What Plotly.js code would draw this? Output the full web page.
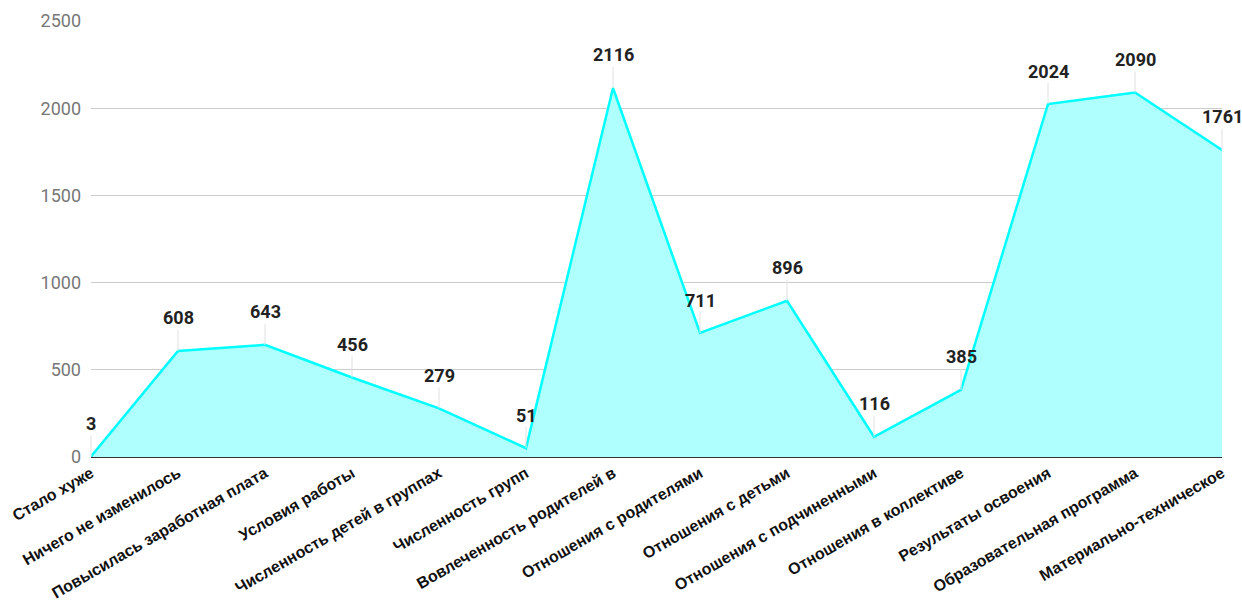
<!DOCTYPE html>
<html>
<head>
<meta charset="utf-8">
<script src="https://cdn.plot.ly/plotly-3.0.1.min.js"></script>
<style>html,body{margin:0;padding:0;background:#fff;}#chart{width:1242px;height:614px;}</style>
</head>
<body>
<div id="chart"></div>
<script>
const categories = [
  "Стало хуже",
  "Ничего не изменилось",
  "Повысилась заработная плата",
  "Условия работы",
  "Численность детей в группах",
  "Численность групп",
  "Вовлеченность родителей в",
  "Отношения с родителями",
  "Отношения с детьми",
  "Отношения с подчиненными",
  "Отношения в коллективе",
  "Результаты освоения",
  "Образовательная программа",
  "Материально-техническое"
];
const values = [3, 608, 643, 456, 279, 51, 2116, 711, 896, 116, 385, 2024, 2090, 1761];
const yTicks = [0, 500, 1000, 1500, 2000, 2500];

const trace = {
  x: categories,
  y: values,
  type: 'scatter',
  mode: 'lines',
  fill: 'tozeroy',
  fillcolor: 'rgba(176,255,255,1)',
  line: {color: '#00FFFF', width: 2.5},
  hoverinfo: 'skip'
};

const annotations = categories.map((c, i) => ({
  x: c, y: values[i], xref: 'x', yref: 'y',
  text: '<b>' + values[i] + '</b>',
  showarrow: true, arrowhead: 0, arrowwidth: 1, arrowcolor: '#e0e0e0',
  ax: 0, ay: -33, standoff: 0,
  font: {family: 'Roboto, sans-serif', size: 18, color: '#222'}
}));

const layout = {
  width: 1242, height: 614,
  margin: {l: 91, r: 20, t: 21, b: 157},
  paper_bgcolor: '#fff', plot_bgcolor: '#fff',
  showlegend: false,
  xaxis: {
    type: 'category',
    range: [0, categories.length - 1],
    tickangle: -30,
    tickfont: {family: 'Arial, "Liberation Sans", sans-serif', size: 16, color: '#111', weight: 'bold'},
    showgrid: false, zeroline: false,
    showline: true, linecolor: '#333', linewidth: 1,
    ticks: '', automargin: false
  },
  yaxis: {
    range: [0, 2500],
    tickvals: yTicks,
    tickfont: {family: 'Roboto, sans-serif', size: 18, color: '#777'},
    showgrid: true, gridcolor: '#cccccc', gridwidth: 1,
    zeroline: false, showline: false, ticks: '',
    ticklabelstandoff: 9, automargin: false
  },
  annotations: annotations
};

Plotly.newPlot('chart', [trace], layout, {staticPlot: true, displayModeBar: false});
</script>
</body>
</html>
